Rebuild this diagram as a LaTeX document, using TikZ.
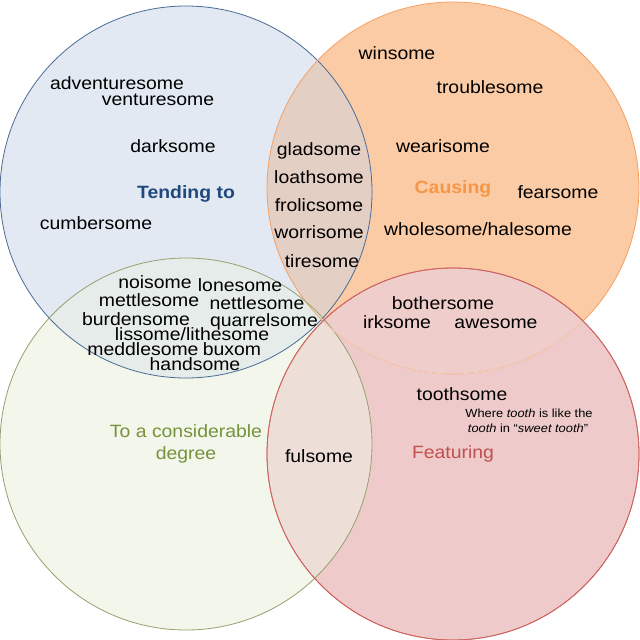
\documentclass[tikz,border=0pt]{standalone}
\usepackage{fontspec}
\setmainfont{Liberation Sans}[FakeStretch=1.09]
\definecolor{bfill}{RGB}{226,233,243}
\definecolor{ofill}{RGB}{251,203,165}
\definecolor{gfill}{RGB}{243,246,234}
\definecolor{pfill}{RGB}{238,203,202}
\definecolor{bofill}{RGB}{227,207,196}
\definecolor{bgfill}{RGB}{229,236,234}
\definecolor{gpfill}{RGB}{237,223,216}
\definecolor{opfill}{RGB}{239,205,202}
\definecolor{bline}{RGB}{74,107,150}
\definecolor{oline}{RGB}{247,160,100}
\definecolor{gline}{RGB}{150,160,112}
\definecolor{pline}{RGB}{205,100,95}
\definecolor{opline}{RGB}{243,206,196}
\definecolor{tendc}{RGB}{31,73,125}
\definecolor{causc}{RGB}{247,150,70}
\definecolor{degc}{RGB}{118,146,60}
\definecolor{featc}{RGB}{192,80,77}
\begin{document}
\begin{tikzpicture}[x=1pt,y=-1pt,
  word/.style={anchor=base,inner sep=0pt,font=\fontsize{17.8}{20}\selectfont},
  small/.style={anchor=base,inner sep=0pt,font=\fontsize{11.8}{13}\selectfont},
  ring/.style={line width=0.8pt}]
\fill[white] (0,0) rectangle (640,640);
\useasboundingbox (0,0) rectangle (640,640);
\def\cB{(186,192) circle[radius=186pt]}
\def\cO{(453,188) circle[radius=186pt]}
\def\cG{(186,444) circle[radius=186pt]}
\def\cP{(453,454) circle[radius=186pt]}
% fills
\fill[bfill] \cB;
\fill[ofill] \cO;
\fill[gfill] \cG;
\fill[pfill] \cP;
\begin{scope}
  \clip \cB;
  \fill[bofill] \cO;
  \fill[bgfill] \cG;
\end{scope}
\begin{scope}
  \clip \cP;
  \fill[gpfill] \cG;
  \fill[opfill] \cO;
\end{scope}
% outlines
\draw[ring,bline] \cB;
\draw[ring,oline] \cO;
\draw[ring,gline] \cG;
\draw[ring,pline] \cP;
\begin{scope}
  \clip \cP;
  \draw[ring,opline] \cO;
\end{scope}
\draw[ring,pline] \cP;
% Tending to
\node[word] (adv) at (117,89) {adventuresome};
\node[word] (ven) at (158,105) {venturesome};
\node[word] (dark) at (173,152) {darksome};
\node[word] (cumb) at (96,229) {cumbersome};
\node[word,font=\fontsize{17.8}{20}\selectfont\bfseries,text=tendc] (tend) at (186,198) {Tending to};
% Causing
\node[word] (win) at (397,59) {winsome};
\node[word] (troub) at (490,93) {troublesome};
\node[word] (wear) at (443,152) {wearisome};
\node[word,font=\fontsize{17.8}{20}\selectfont\bfseries,text=causc] (caus) at (453,193) {Causing};
\node[word] (fear) at (558,198) {fearsome};
\node[word] (whole) at (478,235) {wholesome/halesome};
% Tending & Causing
\node[word] (glad) at (319,155) {gladsome};
\node[word] (loath) at (319,183) {loathsome};
\node[word] (frol) at (319,211) {frolicsome};
\node[word] (worr) at (319,238) {worrisome};
\node[word] (tire) at (322,267) {tiresome};
% Tending & degree
\node[word] (noi) at (155,288) {noisome};
\node[word] (lone) at (240,291) {lonesome};
\node[word] (mett) at (149,306) {mettlesome};
\node[word] (nett) at (257,309) {nettlesome};
\node[word] (burd) at (136,325) {burdensome};
\node[word] (quar) at (264,326) {quarrelsome};
\node[word] (liss) at (192,340) {lissome/lithesome};
\node[word] (medd) at (143,355) {meddlesome};
\node[word] (bux) at (232,355) {buxom};
\node[word] (hand) at (195,370) {handsome};
% Causing & Featuring
\node[word] (both) at (443,309) {bothersome};
\node[word] (irk) at (397,328) {irksome};
\node[word] (awe) at (496,328) {awesome};
% Featuring
\node[word] (tooth) at (462,400) {toothsome};
\node[small] (note1) at (529,417) {Where \textit{tooth} is like the};
\node[small] (note2) at (528,432) {\textit{tooth} in “\textit{sweet tooth}”};
\node[word,text=featc] (feat) at (453,458) {Featuring};
% degree
\node[word,text=degc] (deg1) at (186,437) {To a considerable};
\node[word,text=degc] (deg2) at (186,459) {degree};
\node[word] (ful) at (319,462) {fulsome};
\end{tikzpicture}
\end{document}
